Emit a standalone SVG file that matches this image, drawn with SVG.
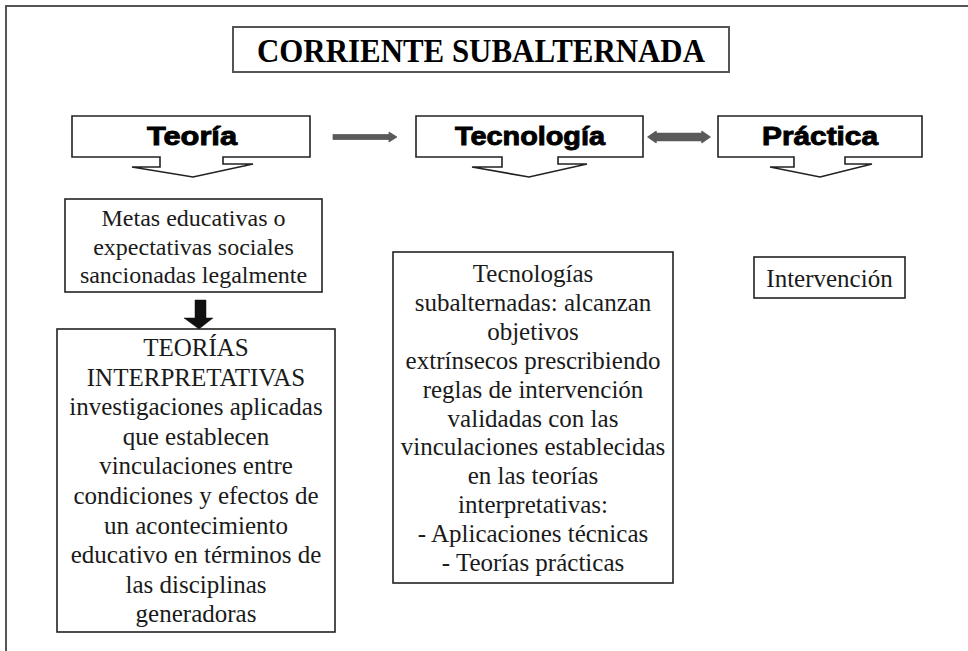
<svg xmlns="http://www.w3.org/2000/svg" width="968" height="651" viewBox="0 0 968 651">
<style>
.frame{fill:none;stroke:#555;stroke-width:2}
.box{fill:#fff;stroke:#222;stroke-width:1.6}
.callout{fill:#fff;stroke:#222;stroke-width:1.6;stroke-linejoin:miter}
.head{font-family:"Liberation Sans",Arial,sans-serif;font-weight:bold;font-size:25px;fill:#000;stroke:#000;stroke-width:0.9;text-anchor:middle}
.txt{font-family:"Liberation Serif","Times New Roman",serif;font-size:24px;fill:#1a1a1a;text-anchor:middle}
.big{font-size:25px}
.title{font-family:"Liberation Serif","Times New Roman",serif;font-weight:bold;font-size:33px;fill:#000;text-anchor:middle}
.conn{fill:#5a5a5a;stroke:#5a5a5a;stroke-linejoin:round}
</style>
<rect width="968" height="651" fill="#fff"/>
<path class="frame" d="M6,651 V6 H968"/>

<g id="title">
<rect x="233" y="27" width="496" height="45" fill="#fff" stroke="#555" stroke-width="2"/>
<text class="title" x="481" y="62" textLength="448" lengthAdjust="spacingAndGlyphs">CORRIENTE SUBALTERNADA</text>
</g>

<g id="teoria">
<path class="callout" d="M72,116 H310 V157 H223 V164 H253 L193,177 L132,167 H160 V157 H72 Z"/>
<text class="head" x="192" y="145" textLength="90" lengthAdjust="spacingAndGlyphs">Teoría</text>
</g>

<g id="tecnologia">
<path class="callout" d="M416,116 H643 V157 H558 V164 H587 L529,177 L472,167 H502 V157 H416 Z"/>
<text class="head" x="530" y="145" textLength="150" lengthAdjust="spacingAndGlyphs">Tecnología</text>
</g>

<g id="practica">
<path class="callout" d="M718,116 H922 V157 H845 V164 H872 L820,177 L770,167 H794 V157 H718 Z"/>
<text class="head" x="820" y="145" textLength="116" lengthAdjust="spacingAndGlyphs">Práctica</text>
</g>

<g id="metas">
<rect class="box" x="65" y="199" width="257" height="93"/>
<text class="txt" x="193.5" y="226">Metas educativas o</text>
<text class="txt" x="193.5" y="254.5">expectativas sociales</text>
<text class="txt" x="193.5" y="283">sancionadas legalmente</text>
</g>

<g id="teorias-interpretativas">
<rect class="box" x="57" y="329" width="278" height="303"/>
<text class="txt big" x="196" y="356">TEORÍAS</text>
<text class="txt big" x="196" y="385.6">INTERPRETATIVAS</text>
<text class="txt big" x="196" y="415.2">investigaciones aplicadas</text>
<text class="txt big" x="196" y="444.8">que establecen</text>
<text class="txt big" x="196" y="474.4">vinculaciones entre</text>
<text class="txt big" x="196" y="504">condiciones y efectos de</text>
<text class="txt big" x="196" y="533.6">un acontecimiento</text>
<text class="txt big" x="196" y="563.2">educativo en términos de</text>
<text class="txt big" x="196" y="592.8">las disciplinas</text>
<text class="txt big" x="196" y="622.4">generadoras</text>
</g>

<g id="tecnologias-subalternadas">
<rect class="box" x="393" y="252" width="280" height="331"/>
<text class="txt big" x="533" y="282">Tecnologías</text>
<text class="txt big" x="533" y="310.9">subalternadas: alcanzan</text>
<text class="txt big" x="533" y="339.8">objetivos</text>
<text class="txt big" x="533" y="368.7">extrínsecos prescribiendo</text>
<text class="txt big" x="533" y="397.6">reglas de intervención</text>
<text class="txt big" x="533" y="426.5">validadas con las</text>
<text class="txt big" x="533" y="455.4">vinculaciones establecidas</text>
<text class="txt big" x="533" y="484.3">en las teorías</text>
<text class="txt big" x="533" y="513.2">interpretativas:</text>
<text class="txt big" x="533" y="542.1">- Aplicaciones técnicas</text>
<text class="txt big" x="533" y="571">- Teorías prácticas</text>
</g>

<g id="intervencion">
<rect class="box" x="754" y="257" width="151" height="41"/>
<text class="txt" x="829.5" y="287" style="font-size:25px">Intervención</text>
</g>

<g id="connectors">
<polygon class="conn" stroke-width="0.8" points="333,134.5 389,134.5 389,132 397,137 389,142 389,139.5 333,139.5"/>
<polygon class="conn" stroke-width="1.5" fill="#666" stroke="#666" points="648,137 656,131.5 656,133.5 702,133.5 702,131.5 710,137 702,142.5 702,140.5 656,140.5 656,142.5"/>
<polygon fill="#111" stroke="#111" stroke-width="0.5" points="195,300 206,300 206,318 213,318 199,329 184,318 195,318"/>
</g>
</svg>
